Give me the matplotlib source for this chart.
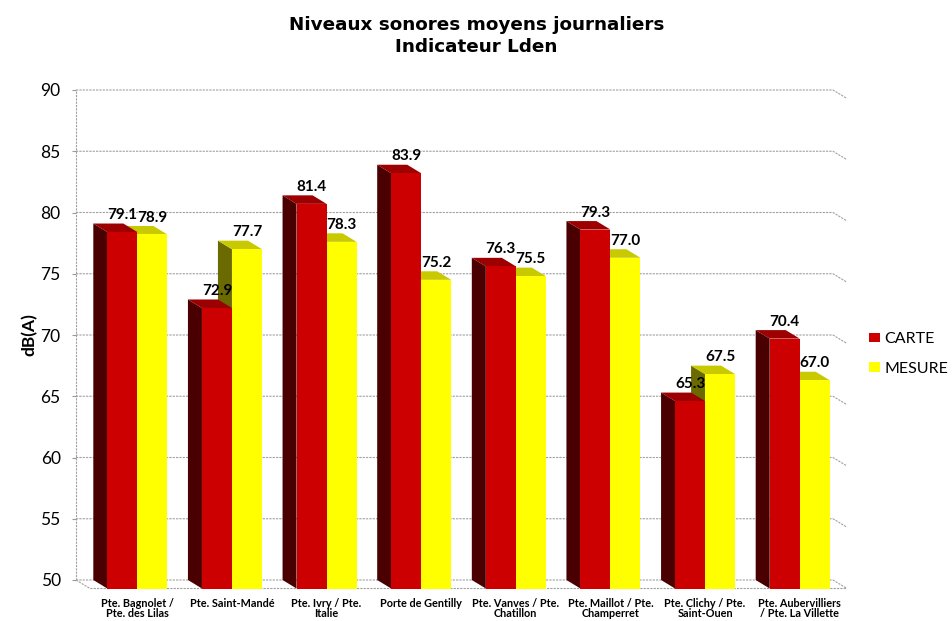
import matplotlib.pyplot as plt
from matplotlib.patches import Rectangle, Polygon, Patch

# data
categories = ['Pte. Bagnolet /\nPte. des Lilas', 'Pte. Saint-Mandé', 'Pte. Ivry / Pte.\nItalie',
              'Porte de Gentilly', 'Pte. Vanves / Pte.\nChatillon', 'Pte. Maillot / Pte.\nChamperret',
              'Pte. Clichy / Pte.\nSaint-Ouen', 'Pte. Aubervilliers\n/ Pte. La Villette']
carte = [79.1, 72.9, 81.4, 83.9, 76.3, 79.3, 65.3, 70.4]
mesure = [78.9, 77.7, 78.3, 75.2, 75.5, 77.0, 67.5, 67.0]
yticks = [50, 55, 60, 65, 70, 75, 80, 85, 90]

RED = ('#cc0000', '#4a0000', '#9c0000')      # front, side, top
YEL = ('#ffff00', '#6a6a00', '#c9c900')

FONT = 'Lato'
fig = plt.figure(figsize=(9.53, 6.21), dpi=100)
ax = fig.add_axes([76 / 953, 1 - 580 / 621, 757 / 953, 490 / 621])
ax.set_xlim(0, 8)
ax.set_ylim(50, 90)

# depth offset of the fake 3d, in data units (14 px right, 8.5 px down)
dx = 14 / (757 / 8)
dy = 8.5 / (490 / 40)
bw = 30 / (757 / 8)

grid_kw = dict(color='#a0a0a0', lw=0.8, ls=(0, (2, 1)), zorder=0.5, clip_on=False)
for t in yticks:
    ax.plot([0, 8, 8 + dx], [t, t, t - dy], **grid_kw)
ax.plot([0, 0], [50, 90], **grid_kw)
ax.plot([0, dx, 8 + dx], [50, 50 - dy, 50 - dy], **grid_kw)


def bar3d(x0, v, cols, z):
    front = Rectangle((x0 + dx, 50 - dy), bw, v - 50, fc=cols[0], ec='none', zorder=z, clip_on=False)
    side = Polygon([(x0, 50), (x0, v), (x0 + dx, v - dy), (x0 + dx, 50 - dy)],
                   fc=cols[1], ec='none', zorder=z, clip_on=False)
    top = Polygon([(x0, v), (x0 + bw, v), (x0 + bw + dx, v - dy), (x0 + dx, v - dy)],
                  fc=cols[2], ec='none', zorder=z, clip_on=False)
    for p in (side, top, front):
        ax.add_patch(p)


for i in range(len(categories)):
    c = i + 0.5
    bar3d(c, mesure[i], YEL, 3)
    bar3d(c - bw, carte[i], RED, 4)
    ax.annotate('%.1f' % carte[i], (c - bw / 2 + dx, carte[i]), xytext=(0, 1),
                textcoords='offset points', ha='center', va='bottom',
                fontsize=11, fontweight='bold', family=FONT, zorder=5)
    ax.annotate('%.1f' % mesure[i], (c + bw / 2 + dx, mesure[i]), xytext=(0, 1),
                textcoords='offset points', ha='center', va='bottom',
                fontsize=11, fontweight='bold', family=FONT, zorder=5)
    ax.annotate(categories[i], (c + dx, 50 - dy), xytext=(0, -6.5), textcoords='offset points',
                ha='center', va='top', fontsize=7.8, fontweight='bold', family=FONT,
                linespacing=0.95, annotation_clip=False)

for s in ax.spines.values():
    s.set_visible(False)
ax.set_xticks([])
ax.set_yticks(yticks)
ax.tick_params(axis='y', length=3, color='#999999', pad=8, labelsize=12.5)
for lab in ax.get_yticklabels():
    lab.set_family(FONT)
ax.set_ylabel('dB(A)', fontsize=12.5, fontweight='bold', family=FONT, labelpad=2)

fig.text(0.5, 0.975, 'Niveaux sonores moyens journaliers\nIndicateur Lden', ha='center', va='top',
         fontsize=13.2, fontweight='bold', family='DejaVu Sans', linespacing=1.3)

handles = [Patch(fc=RED[0]), Patch(fc=YEL[0])]
fig.legend(handles, ['CARTE', 'MESURE'], loc='center left', bbox_to_anchor=(0.897, 0.43),
           frameon=False, handlelength=0.65, handleheight=0.55, handletextpad=0.3,
           labelspacing=1.0, prop={'family': FONT, 'size': 11.5})

fig.savefig('out.png', dpi=100)
